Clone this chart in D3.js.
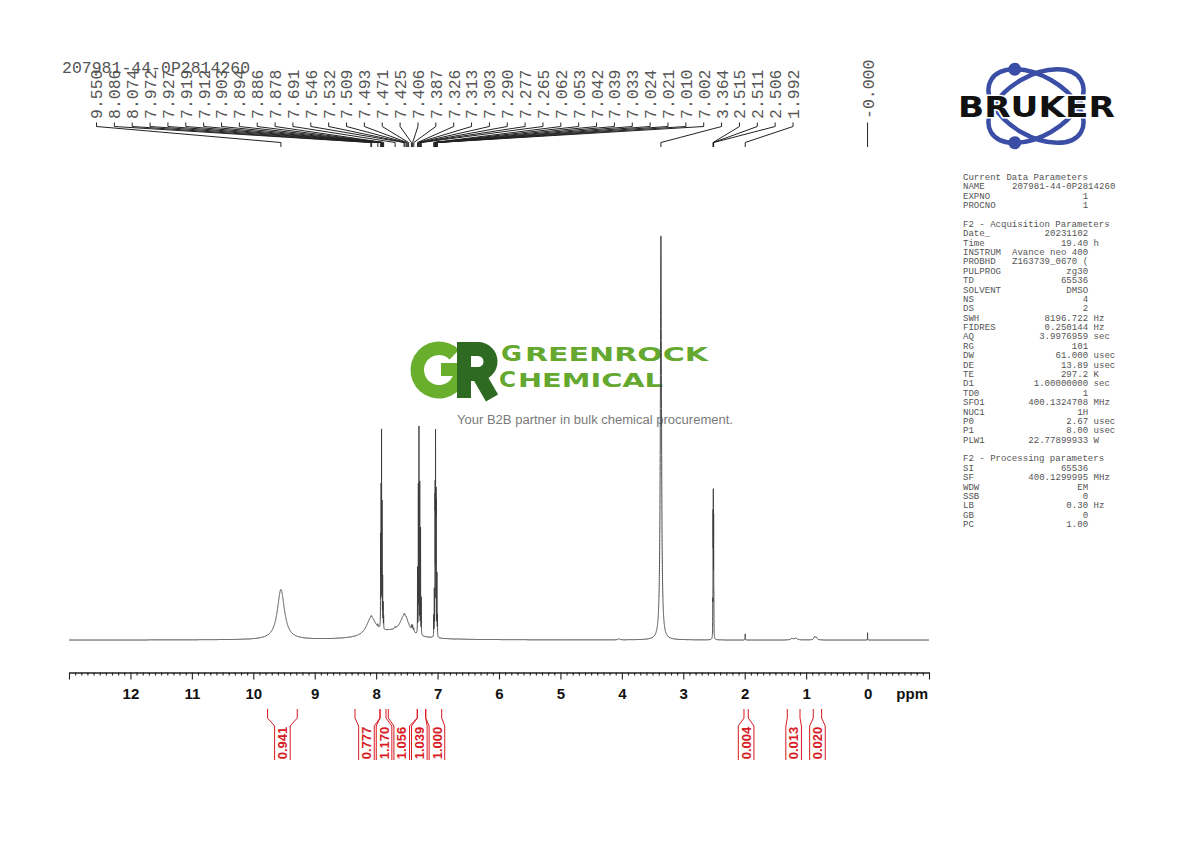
<!DOCTYPE html>
<html><head><meta charset="utf-8">
<script src="https://cdn.jsdelivr.net/npm/d3@7"></script>
<style>body{margin:0;background:#fff}svg{display:block}</style>
</head><body>
<svg id="c" width="1190" height="842"></svg>
<script>
// ---------------- data ----------------
const sampleName = "207981-44-0P2814260";
// spectral lines: shift (ppm), relative intensity (water = 100), half width at half height (ppm)
const lineShift = [9.550, 8.080, 7.750, 7.540,
  8.086, 8.074, 7.691, 7.546, 7.532, 7.509, 7.493, 7.471, 7.425, 7.406, 7.387,
  7.972, 7.927, 7.919, 7.912, 7.903, 7.894, 7.886, 7.878,
  7.326, 7.313, 7.303, 7.290, 7.277, 7.265,
  7.062, 7.053, 7.042, 7.039, 7.033, 7.024, 7.021, 7.010, 7.002,
  4.050, 3.364, 2.520, 2.515, 2.511, 2.506, 2.502, 1.992, 1.230, 1.170, 0.860, 0.830, 0.000];
const lineHeight = [12.4, 4.65, 1.7, 4.8,
  0.3, 0.3, 0.4, 0.3, 0.3, 0.3, 0.3, 0.3, 1.1, 1.4, 0.9,
  0.6, 22, 33, 47, 30, 12, 6, 3,
  16, 36, 50.3, 37, 26, 9,
  5, 11, 28, 30, 47.8, 30, 27, 15, 5,
  0.3, 100, 7, 27, 31.5, 27, 7, 1.5, 0.35, 0.45, 0.8, 0.5, 1.8];
const lineWidth = [0.07, 0.09, 0.35, 0.08,
  0.004, 0.004, 0.005, 0.004, 0.004, 0.004, 0.004, 0.004, 0.005, 0.005, 0.005,
  0.002, 0.0015, 0.0015, 0.0015, 0.0015, 0.0015, 0.0015, 0.0015,
  0.0015, 0.0015, 0.0015, 0.0015, 0.0015, 0.0015,
  0.0015, 0.0015, 0.0015, 0.0015, 0.0015, 0.0015, 0.0015, 0.0015, 0.0015,
  0.012, 0.011, 0.0015, 0.0015, 0.0015, 0.0015, 0.0015, 0.002, 0.02, 0.025, 0.015, 0.015, 0.0015];

const peakLabels = ["9.550","8.086","8.074","7.972","7.927","7.919","7.912","7.903","7.894","7.886",
  "7.878","7.691","7.546","7.532","7.509","7.493","7.471","7.425","7.406","7.387",
  "7.326","7.313","7.303","7.290","7.277","7.265","7.062","7.053","7.042","7.039",
  "7.033","7.024","7.021","7.010","7.002","3.364","2.515","2.511","2.506","1.992"];
const refLabel = "-0.000";
const refShift = 0.0;

const integralFrom  = [9.768, 8.344, 7.937, 7.802, 7.330, 7.193, 2.012, 1.307, 0.884];
const integralTo    = [9.284, 7.937, 7.840, 7.330, 7.193, 6.933, 1.942, 1.100, 0.748];
const integralValue = ["0.941","0.777","1.170","1.056","1.039","1.000","0.004","0.013","0.020"];

const axisLabels = [12, 11, 10, 9, 8, 7, 6, 5, 4, 3, 2, 1, 0];
const axisDomain = [13, -1];

const paramRows = [
  ["Current Data Parameters","",""],
  ["NAME","207981-44-0P2814260",""],
  ["EXPNO","1",""],
  ["PROCNO","1",""],
  ["","",""],
  ["F2 - Acquisition Parameters","",""],
  ["Date_","20231102",""],
  ["Time","19.40","h"],
  ["INSTRUM","Avance neo 400",""],
  ["PROBHD","Z163739_0670 (",""],
  ["PULPROG","zg30",""],
  ["TD","65536",""],
  ["SOLVENT","DMSO",""],
  ["NS","4",""],
  ["DS","2",""],
  ["SWH","8196.722","Hz"],
  ["FIDRES","0.250144","Hz"],
  ["AQ","3.9976959","sec"],
  ["RG","101",""],
  ["DW","61.000","usec"],
  ["DE","13.89","usec"],
  ["TE","297.2","K"],
  ["D1","1.00000000","sec"],
  ["TD0","1",""],
  ["SFO1","400.1324708","MHz"],
  ["NUC1","1H",""],
  ["P0","2.67","usec"],
  ["P1","8.00","usec"],
  ["PLW1","22.77899933","W"],
  ["","",""],
  ["F2 - Processing parameters","",""],
  ["SI","65536",""],
  ["SF","400.1299995","MHz"],
  ["WDW","EM",""],
  ["SSB","0",""],
  ["LB","0.30","Hz"],
  ["GB","0",""],
  ["PC","1.00",""]
];

// ---------------- drawing ----------------
const svg = d3.select("#c");
const x = d3.scaleLinear().domain(axisDomain).range([69, 929]);
const y = d3.scaleLinear().domain([0, 100]).range([640, 236]);

// ---- GreenRock watermark ----
const logo = svg.append("g");
const gArc = d3.arc().innerRadius(15).outerRadius(28.5).startAngle(Math.PI/2).endAngle(2*Math.PI + Math.PI/4);
logo.append("path").attr("transform","translate(439,370)").attr("d", gArc()).attr("fill","#69ae2c");
logo.append("rect").attr("x",441).attr("y",363).attr("width",26.5).attr("height",13).attr("fill","#69ae2c");
logo.append("path").attr("d","M464,398 V349 H478 A12.5 12.5 0 0 1 478 374 H464")
  .attr("fill","none").attr("stroke","#2f6a22").attr("stroke-width",14);
logo.append("path").attr("d","M477,372 L492,398").attr("fill","none").attr("stroke","#2f6a22").attr("stroke-width",14);
const lg = "#64a830";
[["G",501,361,22,21],["REENROCK",525,361,19,183],["C",499,387,22,17],["HEMICAL",518,387,19,145]].forEach(w => {
  logo.append("text").attr("font-family","DejaVu Sans").attr("font-weight","bold").attr("fill",lg)
    .attr("x",w[1]).attr("y",w[2]).attr("font-size",w[3])
    .attr("textLength",w[4]).attr("lengthAdjust","spacingAndGlyphs").text(w[0]);
});
logo.append("text").attr("x",457).attr("y",424).attr("font-family","Liberation Sans").attr("font-size",12.5)
  .attr("fill","#7a7a7a").attr("textLength",276).attr("lengthAdjust","spacingAndGlyphs")
  .text("Your B2B partner in bulk chemical procurement.");

// ---- spectrum ----
const grid = [];
for (let p = axisDomain[0]; p >= axisDomain[1]; p -= 0.0005) grid.push(p);
lineShift.forEach(s => grid.push(s));
grid.sort((a, b) => b - a);
const spec = grid.map(p => {
  let v = 0;
  for (let i = 0; i < lineShift.length; i++) {
    const d = (p - lineShift[i]) / lineWidth[i];
    v += lineHeight[i] / (1 + d * d);
  }
  return [p, v];
});
svg.append("path").datum(spec)
  .attr("d", d3.line().x(d => x(d[0])).y(d => y(d[1])))
  .attr("fill","none").attr("stroke","#3a3a3a").attr("stroke-width",0.9);

// ---- axis ----
const majorTicks = d3.range(axisDomain[1], axisDomain[0] + 0.001, 1);
const minorTicks = d3.range(-10, 131).map(v => v / 10).filter(v => Math.abs(v - Math.round(v)) > 1e-6);
const axY = 672.5;
const axMinor = svg.append("g").attr("transform",`translate(0,${axY})`)
  .call(d3.axisBottom(x).tickValues(minorTicks).tickSize(3).tickSizeOuter(0).tickFormat(""));
const axMajor = svg.append("g").attr("transform",`translate(0,${axY})`)
  .call(d3.axisBottom(x).tickValues(majorTicks).tickSize(7).tickSizeOuter(0).tickPadding(8.5)
    .tickFormat(d => axisLabels.includes(Math.round(d)) ? String(Math.round(d)) : ""));
[axMinor, axMajor].forEach(a => {
  a.selectAll("path,line").attr("stroke","#222").attr("stroke-width",1.1);
});
axMajor.selectAll("text").attr("font-family","Liberation Sans").attr("font-weight","bold")
  .attr("font-size",15).attr("fill","#111");
svg.append("text").attr("x",928).attr("y",698.6).attr("text-anchor","end")
  .attr("font-family","Liberation Sans").attr("font-weight","bold").attr("font-size",15).attr("fill","#111").text("ppm");

// ---- peak labels ----
const mono = "Liberation Mono";
svg.append("text").attr("x",62).attr("y",73).attr("font-family",mono).attr("font-size",16.5)
  .attr("fill","#555").text(sampleName);
const labPos = d3.scaleLinear().domain([0, peakLabels.length - 1]).range([96.5, 793]);
const pl = svg.append("g");
peakLabels.forEach((t, i) => {
  const lx = labPos(i), px = x(+t);
  pl.append("text").attr("transform",`translate(${lx},119) rotate(-90)`).attr("dy","0.36em")
    .attr("font-family",mono).attr("font-size",16.5).attr("fill","#555").text(t);
  pl.append("path").attr("d",`M${lx},122.5 V126.5 L${px},142.5 V147`)
    .attr("fill","none").attr("stroke","#222").attr("stroke-width",1);
});
pl.append("text").attr("transform",`translate(${x(refShift)},119) rotate(-90)`).attr("dy","0.36em")
  .attr("font-family",mono).attr("font-size",16.5).attr("fill","#555").text(refLabel);
pl.append("path").attr("d",`M${x(refShift)},122.5 V147`).attr("fill","none").attr("stroke","#222").attr("stroke-width",1);

// ---- integrals ----
const red = "#d81a22";
const ints = integralValue.map((v, i) => ({ v, a: x(integralFrom[i]), b: x(integralTo[i]) }));
ints.forEach(d => d.c = (d.a + d.b) / 2);
const minGap = 17.6;
for (let k = 0; k < 200; k++) {
  for (let i = 0; i < ints.length - 1; i++) {
    const gap = ints[i + 1].c - ints[i].c;
    if (gap < minGap) { const s = (minGap - gap) / 2; ints[i].c -= s; ints[i + 1].c += s; }
  }
}
const hw = 7.8;
const ig = svg.append("g");
ints.forEach(d => {
  ig.append("path").attr("d",`M${d.a},709 V718 L${d.c - hw},726 V760 M${d.b},709 V718 L${d.c + hw},726 V760`)
    .attr("fill","none").attr("stroke",red).attr("stroke-width",1);
  ig.append("text").attr("transform",`translate(${d.c},743) rotate(-90)`).attr("dy","0.36em")
    .attr("text-anchor","middle").attr("font-family","Liberation Sans").attr("font-weight","bold")
    .attr("font-size",13).attr("fill",red).text(d.v);
});

// ---- parameter panel ----
const cw = 5.44, px0 = 963, py0 = 180, lh = 9.38;
const pp = svg.append("g").attr("font-family",mono).attr("font-size",cw / 0.6).attr("fill","#555");
paramRows.forEach((r, i) => {
  const yy = py0 + i * lh;
  if (r[0]) pp.append("text").attr("x",px0).attr("y",yy).text(r[0]);
  if (r[1]) {
    const col = Math.max(9, 23 - r[1].length);
    pp.append("text").attr("x",px0 + col * cw).attr("y",yy).attr("textLength",r[1].length * cw).text(r[1]);
  }
  if (r[2]) pp.append("text").attr("x",px0 + 24 * cw).attr("y",yy).text(r[2]);
});

// ---- Bruker logo ----
const bl = svg.append("g");
const bc = [1036, 106], brx = 52, bry = 30, blue = "#3a4ea6";
[30, -30].forEach((ang, k) => {
  bl.append("ellipse").attr("cx",bc[0]).attr("cy",bc[1]).attr("rx",brx).attr("ry",bry)
    .attr("transform",`rotate(${ang},${bc[0]},${bc[1]})`).attr("fill","none").attr("stroke",blue).attr("stroke-width",4.5);
  const th = ang * Math.PI / 180;
  let best = null;
  for (let t = 0; t < 2 * Math.PI; t += 0.002) {
    const X = brx * Math.cos(t) * Math.cos(th) - bry * Math.sin(t) * Math.sin(th);
    const Y = brx * Math.cos(t) * Math.sin(th) + bry * Math.sin(t) * Math.cos(th);
    if (best === null || (k === 0 ? Y < best[1] : Y > best[1])) best = [X, Y];
  }
  bl.append("circle").attr("cx",bc[0] + best[0]).attr("cy",bc[1] + best[1]).attr("r",6.5).attr("fill",blue);
});
bl.append("text").attr("x",958).attr("y",117).attr("font-family","DejaVu Sans").attr("font-weight","bold")
  .attr("font-size",29).attr("fill","#111").attr("stroke","#fff").attr("stroke-width",3)
  .attr("paint-order","stroke").attr("textLength",157).attr("lengthAdjust","spacingAndGlyphs").text("BRUKER");
</script>
</body></html>
